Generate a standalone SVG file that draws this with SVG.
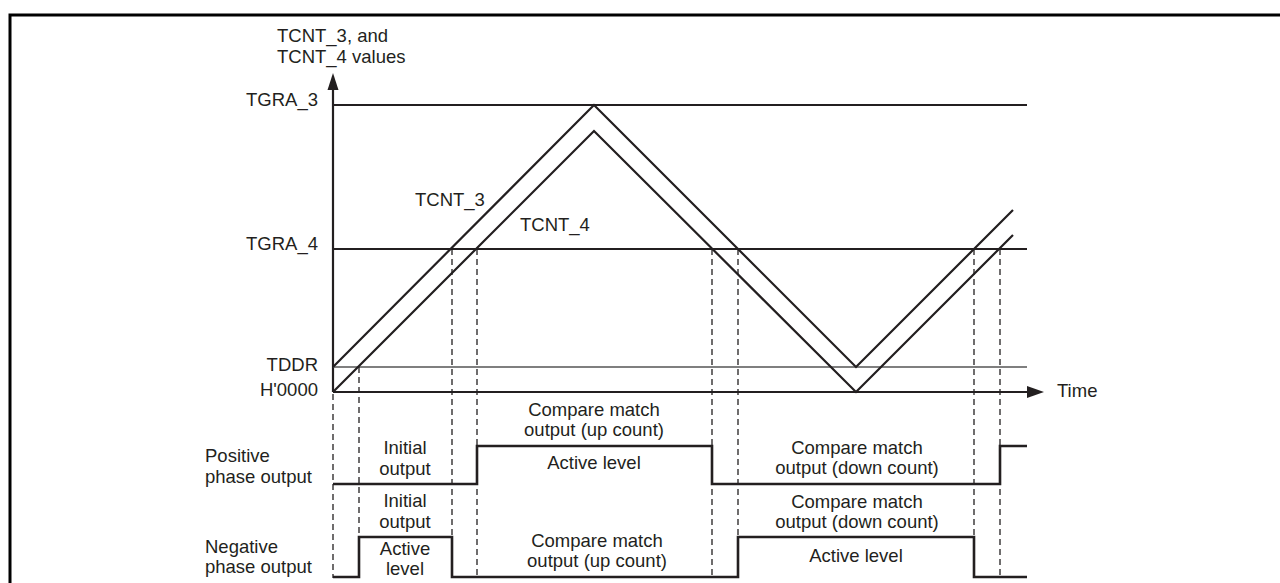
<svg xmlns="http://www.w3.org/2000/svg" width="1280" height="583" viewBox="0 0 1280 583">
<defs>
<style>
text{font-family:"Liberation Sans",Arial,sans-serif;font-size:18.5px;fill:#231f20}
.m{text-anchor:middle}
.r{text-anchor:end}
.ln{stroke:#231f20;stroke-width:2.2;fill:none}
.thin{stroke:#555;stroke-width:1.5;fill:none}
.wave{stroke:#231f20;stroke-width:2.6;fill:none;stroke-linejoin:miter}
.dash{stroke:#231f20;stroke-width:1.3;stroke-dasharray:6 4;fill:none}
.frame{stroke:#000;stroke-width:3;fill:none}
</style>
</defs>
<rect width="1280" height="583" fill="#fff"/>
<path class="frame" d="M10,583 V15 H1280"/>
<g id="connectors">
<line class="ln" x1="333" y1="392" x2="333" y2="88"/>
<polygon points="333,73 327.5,90 338.5,90" fill="#231f20"/>
<line class="ln" x1="333" y1="392" x2="1029" y2="392"/>
<polygon points="1044,392 1027,386 1027,398" fill="#231f20"/>
<line class="ln" x1="333" y1="105" x2="1027" y2="105"/>
<line class="ln" x1="333" y1="249" x2="1027" y2="249"/>
<line class="thin" x1="333" y1="367" x2="1027" y2="367"/>
<polyline class="ln" points="333,367 594,105 856,367 1013,210"/>
<polyline class="ln" points="333,392 594,131 856,392 1013,235"/>
<line class="dash" x1="333" y1="394" x2="333" y2="578"/>
<line class="dash" x1="359" y1="367" x2="359" y2="578"/>
<line class="dash" x1="452" y1="249" x2="452" y2="578"/>
<line class="dash" x1="477" y1="249" x2="477" y2="578"/>
<line class="dash" x1="712" y1="249" x2="712" y2="578"/>
<line class="dash" x1="738" y1="249" x2="738" y2="578"/>
<line class="dash" x1="974" y1="249" x2="974" y2="578"/>
<line class="dash" x1="1000" y1="249" x2="1000" y2="578"/>
<polyline class="wave" points="333,484 477,484 477,446 712,446 712,484 1000,484 1000,446 1027,446"/>
<polyline class="wave" points="333,577 359,577 359,537 452,537 452,577 738,577 738,537 974,537 974,577 1027,577"/>
</g>
<g id="axis-labels">
<text x="277" y="42">TCNT_3, and</text>
<text x="277" y="63">TCNT_4 values</text>
<text class="r" x="318" y="106">TGRA_3</text>
<text class="r" x="318" y="250">TGRA_4</text>
<text class="r" x="318" y="371">TDDR</text>
<text class="r" x="318" y="396">H'0000</text>
<text x="1057" y="397">Time</text>
<text x="415" y="206">TCNT_3</text>
<text x="520" y="231">TCNT_4</text>
</g>
<g id="positive-phase">
<text x="205" y="462">Positive</text>
<text x="205" y="483">phase output</text>
<text class="m" x="405" y="454">Initial</text>
<text class="m" x="405" y="475">output</text>
<text class="m" x="594" y="416">Compare match</text>
<text class="m" x="594" y="436">output (up count)</text>
<text class="m" x="594" y="469">Active level</text>
<text class="m" x="857" y="454">Compare match</text>
<text class="m" x="857" y="474">output (down count)</text>
</g>
<g id="negative-phase">
<text x="205" y="553">Negative</text>
<text x="205" y="573">phase output</text>
<text class="m" x="405" y="507">Initial</text>
<text class="m" x="405" y="528">output</text>
<text class="m" x="405" y="555">Active</text>
<text class="m" x="405" y="575">level</text>
<text class="m" x="597" y="547">Compare match</text>
<text class="m" x="597" y="567">output (up count)</text>
<text class="m" x="857" y="508">Compare match</text>
<text class="m" x="857" y="528">output (down count)</text>
<text class="m" x="856" y="562">Active level</text>
</g>
</svg>
